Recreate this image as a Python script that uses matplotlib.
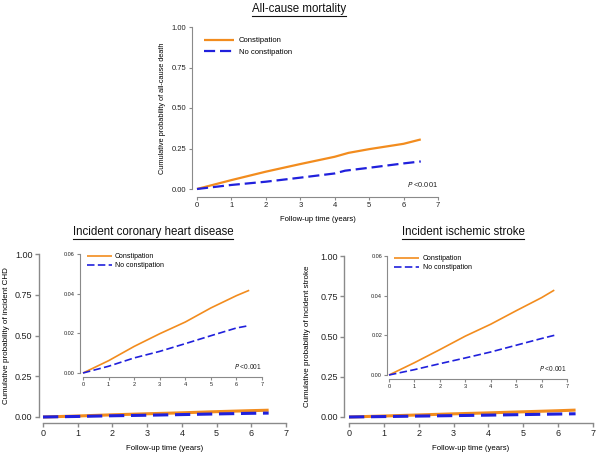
import matplotlib
matplotlib.use("Agg")
import matplotlib.pyplot as plt
from matplotlib.lines import Line2D

plt.rcParams['font.family'] = ['Liberation Sans', 'DejaVu Sans']

# ---------------- data ----------------
groups = ["Constipation", "No constipation"]

mort_t_c = [0, 1, 2, 3, 4, 4.4, 5, 6, 6.5]
mort_c = [0, 0.055, 0.107, 0.154, 0.199, 0.223, 0.246, 0.279, 0.306]
mort_t_n = [0, 1, 2, 3, 4, 4.3, 5, 6, 6.5]
mort_n = [0, 0.025, 0.045, 0.070, 0.096, 0.113, 0.131, 0.158, 0.170]

chd_t = [0, 1, 2, 3, 4, 5, 6, 6.5]
chd_c = [0, 0.0062, 0.0134, 0.0198, 0.0257, 0.0328, 0.0390, 0.0417]
chd_n = [0, 0.0034, 0.0076, 0.0109, 0.0148, 0.0188, 0.0227, 0.0239]

str_t = [0, 1, 2, 3, 4, 5, 6, 6.5]
str_c = [0, 0.0062, 0.0128, 0.0196, 0.0256, 0.0324, 0.0390, 0.0428]
str_n = [0, 0.0027, 0.0057, 0.0086, 0.0116, 0.0150, 0.0184, 0.0200]

main_yticks = [0, 0.25, 0.50, 0.75, 1.00]
main_ylabels = ["0.00", "0.25", "0.50", "0.75", "1.00"]
inset_yticks = [0, 0.02, 0.04, 0.06]
inset_ylabels = ["0.00", "0.02", "0.04", "0.06"]
xticks = [0, 1, 2, 3, 4, 5, 6, 7]

titles = ["All-cause mortality", "Incident coronary heart disease", "Incident ischemic stroke"]
ylabels = ["Cumulative probability of all-cause death",
           "Cumulative probability of incident CHD",
           "Cumulative probability of incident stroke"]
xlabel = "Follow-up time (years)"
ptext = "<0.001"

ORANGE = "#F28C1E"
BLUE = "#2020DC"
GREY = "#8a8a8a"

W, H = 600, 454
fig = plt.figure(figsize=(6.0, 4.54), dpi=100)


def add_axes_px(x0, x7, y0, ytop):
    left = x0 / W
    width = (x7 - x0) / W
    bottom = 1 - y0 / H
    height = (y0 - ytop) / H
    return fig.add_axes([left, bottom, width, height])


def style(ax, ymax, yt, ytl, fs, lw_sp, outx, outy, ticklen):
    ax.set_xlim(0, 7)
    ax.set_ylim(0, ymax)
    for s in ["top", "right"]:
        ax.spines[s].set_visible(False)
    ax.spines["left"].set_position(("outward", outx))
    ax.spines["bottom"].set_position(("outward", outy))
    for s in ["left", "bottom"]:
        ax.spines[s].set_color(GREY)
        ax.spines[s].set_linewidth(lw_sp)
    ax.set_xticks(xticks)
    ax.set_xticklabels([str(v) for v in xticks])
    ax.set_yticks(yt)
    ax.set_yticklabels(ytl)
    ax.tick_params(axis="both", labelsize=fs, color=GREY, length=ticklen,
                   width=lw_sp, pad=1.5, labelcolor="#222222")
    ax.patch.set_visible(False)


def plot_pair(ax, tc, c, tn, n, lw, dash):
    l1, = ax.plot(tc, c, color=ORANGE, lw=lw, solid_capstyle="butt", clip_on=False)
    l2, = ax.plot(tn, n, color=BLUE, lw=lw, dashes=dash, clip_on=False)
    return l1, l2


def ptxt(ax, x, y, fs):
    ax.text(x, y, r"$\it{P}$ " + ptext, transform=ax.transAxes, ha="right",
            va="bottom", fontsize=fs, color="#222222")


# ---------- top panel ----------
ax1 = add_axes_px(197, 438, 189, 27)
style(ax1, 1.0, main_yticks, main_ylabels, 5.5, 0.8, 3.5, 5.5, 2.5)
plot_pair(ax1, mort_t_c, mort_c, mort_t_n, mort_n, 1.6, (5, 2.2))
ax1.set_ylabel(ylabels[0], fontsize=5.3, labelpad=4)
ax1.set_xlabel(xlabel, fontsize=5.5, labelpad=5)
ax1.legend(groups, loc="upper left", bbox_to_anchor=(0.0, 0.98), frameon=False,
           fontsize=5.5, handlelength=4.0, handletextpad=0.6, labelspacing=0.55)
ptxt(ax1, 1.0, 0.0, 5.3)

# ---------- bottom-left main ----------
ax2 = add_axes_px(43, 286, 417, 254)
style(ax2, 1.0, main_yticks, main_ylabels, 6.5, 1.0, 3, 4.5, 3)
plot_pair(ax2, chd_t, chd_c, chd_t, chd_n, 2.2, (5, 2.2))
ax2.set_ylabel(ylabels[1], fontsize=5.8, labelpad=4)
ax2.set_xlabel(xlabel, fontsize=5.6, labelpad=5)

# inset CHD
ax2i = add_axes_px(83, 262, 373, 254)
style(ax2i, 0.06, inset_yticks, inset_ylabels, 4, 0.8, 2.5, 3, 2)
plot_pair(ax2i, chd_t, chd_c, chd_t, chd_n, 1.2, (4.5, 2))
ax2i.legend(groups, loc="upper left", bbox_to_anchor=(-0.015, 1.06), frameon=False,
            fontsize=5.0, handlelength=3.6, handletextpad=0.5, labelspacing=0.3)
ptxt(ax2i, 1.0, 0.02, 4.8)

# ---------- bottom-right main ----------
ax3 = add_axes_px(349, 593, 417, 256)
style(ax3, 1.0, main_yticks, main_ylabels, 6.5, 1.0, 3.5, 4.5, 3)
plot_pair(ax3, str_t, str_c, str_t, str_n, 2.2, (5, 2.2))
ax3.set_ylabel(ylabels[2], fontsize=5.8, labelpad=7)
ax3.set_xlabel(xlabel, fontsize=5.6, labelpad=5)

# inset stroke
ax3i = add_axes_px(389, 567, 375, 256)
style(ax3i, 0.06, inset_yticks, inset_ylabels, 4, 0.8, 1.5, 3, 2)
plot_pair(ax3i, str_t, str_c, str_t, str_n, 1.2, (4.5, 2))
ax3i.legend(groups, loc="upper left", bbox_to_anchor=(-0.005, 1.06), frameon=False,
            fontsize=5.0, handlelength=3.6, handletextpad=0.5, labelspacing=0.3)
ptxt(ax3i, 1.0, 0.02, 4.8)

# ---------- titles with underline ----------
title_pos = [(299, 9), (153, 232), (463, 232)]
title_objs = []
for t, (px, py) in zip(titles, title_pos):
    title_objs.append(fig.text(px / W, 1 - py / H, t, ha="center", va="center",
                               fontsize=8.3, color="#111111"))

fig.canvas.draw()
r = fig.canvas.get_renderer()
for tobj in title_objs:
    bb = tobj.get_window_extent(renderer=r)
    yline = (bb.y0 - 1) / (H)
    fig.add_artist(Line2D([bb.x0 / W, bb.x1 / W], [yline, yline],
                          transform=fig.transFigure, color="#111111", lw=0.8))

fig.savefig("out.png", dpi=100)
